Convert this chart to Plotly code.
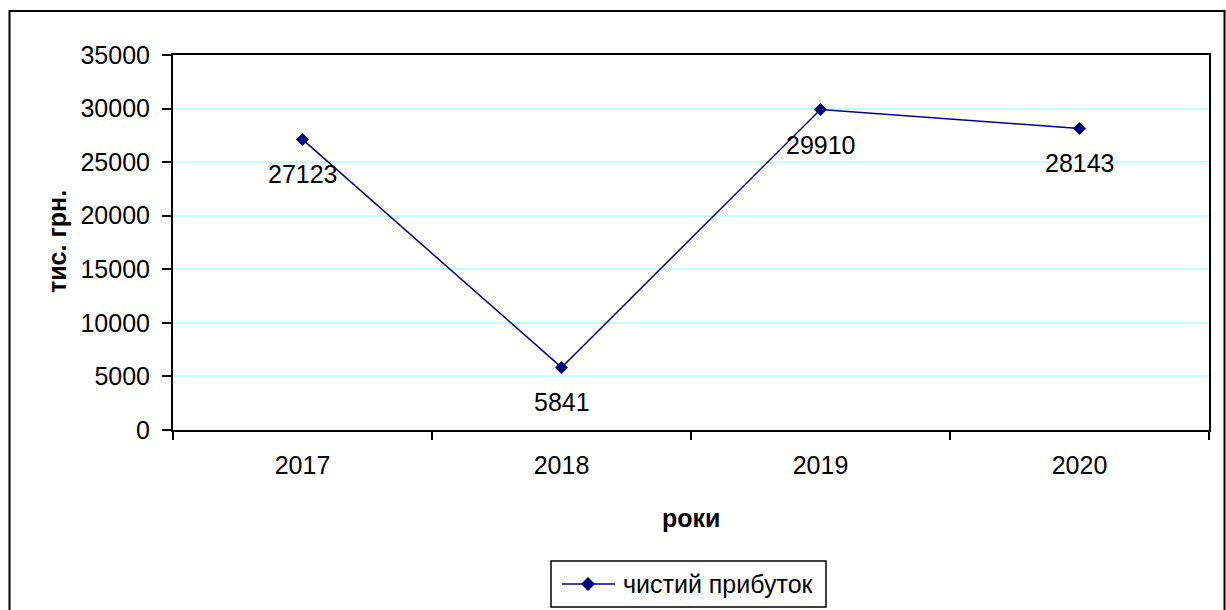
import plotly.graph_objects as go

years = ["2017", "2018", "2019", "2020"]
net_profit = [27123, 5841, 29910, 28143]
y_ticks = [0, 5000, 10000, 15000, 20000, 25000, 30000, 35000]

series_name = "чистий прибуток"
y_title = "тис. грн."
x_title = "роки"

navy = "#000080"
font_family = "Arial, Liberation Sans, sans-serif"
fs = 25

W, H = 1226, 610
L, R, T, B = 173, 17, 55, 180
pw, ph = W - L - R, H - T - B


def px_x(px):
    return (px - L) / pw


def px_y(py):
    return (H - B - py) / ph


fig = go.Figure()
fig.add_trace(go.Scatter(
    x=years, y=net_profit, mode="lines+markers", name=series_name,
    line=dict(color=navy, width=1.5),
    marker=dict(symbol="diamond", size=10, color=navy),
    showlegend=False,
))

# value labels under each point (category index used as x position)
annotations = [
    dict(x=i, y=v, xref="x", yref="y", text=str(v), showarrow=False,
         yshift=-35, font=dict(size=fs, color="black", family=font_family))
    for i, v in enumerate(net_profit)
]
annotations += [
    dict(x=px_x(57), y=px_y(242), xref="paper", yref="paper", text=y_title,
         textangle=-90, showarrow=False, xanchor="center", yanchor="middle",
         font=dict(size=fs, color="black", family=font_family, weight="bold")),
    dict(x=px_x(691), y=px_y(518), xref="paper", yref="paper", text=x_title,
         showarrow=False, xanchor="center", yanchor="middle",
         font=dict(size=fs, color="black", family=font_family, weight="bold")),
    # legend label
    dict(x=px_x(621), y=px_y(584), xref="paper", yref="paper",
         text=series_name, showarrow=False, xanchor="left", yanchor="middle",
         font=dict(size=fs, color="black", family=font_family)),
]

# legend box with line + diamond key
lg_y = px_y(584)
dx, dy = 7 / pw, 7 / ph
cx = px_x(588)
legend_shapes = [
    dict(type="rect", xref="paper", yref="paper",
         x0=px_x(551), x1=px_x(826), y0=px_y(607), y1=px_y(561),
         line=dict(color="black", width=1.5), fillcolor="white"),
    dict(type="line", xref="paper", yref="paper",
         x0=px_x(562), x1=px_x(615), y0=lg_y, y1=lg_y,
         line=dict(color=navy, width=1.5)),
    dict(type="path", xref="paper", yref="paper",
         path=f"M {cx - dx} {lg_y} L {cx} {lg_y + dy} L {cx + dx} {lg_y} "
              f"L {cx} {lg_y - dy} Z",
         line=dict(color=navy, width=0), fillcolor=navy),
]

fig.update_layout(
    width=W, height=H,
    margin=dict(l=L, r=R, t=T, b=B, autoexpand=False),
    paper_bgcolor="white", plot_bgcolor="white",
    font=dict(family=font_family, size=fs, color="black"),
    annotations=annotations,
    shapes=[dict(
        type="rect", xref="paper", yref="paper",
        x0=px_x(9.5), x1=px_x(1224.5), y0=px_y(640), y1=px_y(11),
        line=dict(color="black", width=2), fillcolor="rgba(0,0,0,0)",
        layer="below",
    )] + legend_shapes,
)

fig.update_xaxes(
    type="category", range=[-0.5, 3.5],
    showline=True, linecolor="black", linewidth=2, mirror=True,
    ticks="outside", tickson="boundaries", ticklen=8, tickwidth=1.5,
    tickcolor="black", showgrid=False, ticklabelstandoff=12,
    tickfont=dict(size=fs),
)
fig.update_yaxes(
    range=[0, 35000], tickvals=y_ticks, ticktext=[str(t) for t in y_ticks],
    showline=True, linecolor="black", linewidth=2, mirror=True,
    ticks="outside", ticklen=9, tickwidth=1.5, tickcolor="black",
    showgrid=True, gridcolor="#c4ffff", gridwidth=1.5, zeroline=False,
    ticklabelstandoff=7, tickfont=dict(size=fs),
)

fig.write_html("out.html")
